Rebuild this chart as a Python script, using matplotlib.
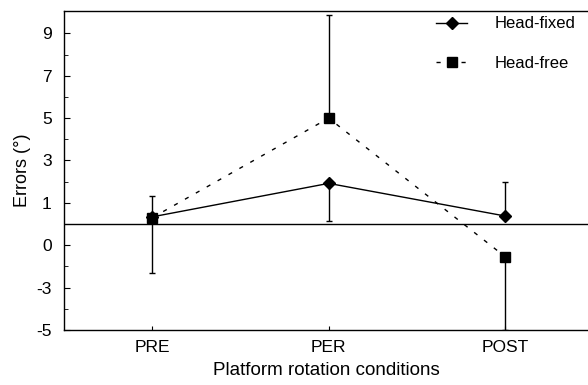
import matplotlib.pyplot as plt
import numpy as np

plt.rcParams['font.family'] = ['Liberation Sans', 'DejaVu Sans']

conditions = ['PRE', 'PER', 'POST']

# mean errors (deg)
head_fixed = [0.34, 1.92, 0.38]
head_free = [0.30, 5.00, -1.54]

# one-sided spreads: (lower, upper)
fixed_lo = [0.0, 1.78, 0.0]
fixed_hi = [1.00, 0.0, 1.62]
free_lo = [2.60, 0.0, 3.46]
free_hi = [0.0, 4.85, 0.0]

ytick_vals = [9, 7, 5, 3, 1, -1, -3, -5]
ytick_labels = ['9', '7', '5', '3', '1', '0', '-3', '-5']

fig = plt.figure(figsize=(5.88, 3.85), dpi=100)
ax = fig.add_axes([0.109, 0.143, 0.891, 0.828])

x = np.arange(1, len(conditions) + 1)

ax.axhline(0, color='black', linewidth=1.0, zorder=1)

ax.errorbar(x, head_fixed, yerr=[fixed_lo, fixed_hi], fmt='none', ecolor='black',
            elinewidth=1.0, capsize=2.5, capthick=1.0, zorder=2)
ax.errorbar(x, head_free, yerr=[free_lo, free_hi], fmt='none', ecolor='black',
            elinewidth=1.0, capsize=2.5, capthick=1.0, zorder=2)

ax.plot(x, head_fixed, '-D', color='black', linewidth=1.0, markersize=6.5,
        label='Head-fixed', zorder=3)
ax.plot(x, head_free, 's', linestyle=(0, (3, 6)), color='black', linewidth=1.0,
        markersize=7, label='Head-free', zorder=3)

ax.set_xlim(0.5, 3.47)
ax.set_ylim(-5, 10.05)
ax.set_xticks(x)
ax.set_xticklabels(conditions, fontsize=12.5)
ax.set_yticks(ytick_vals)
ax.set_yticklabels(ytick_labels, fontsize=12.5)
ax.set_yticks(np.arange(-4, 10, 2), minor=True)
ax.tick_params(axis='both', which='both', direction='in')
ax.tick_params(axis='y', which='major', length=4, pad=9)
ax.tick_params(axis='y', which='minor', length=3)
ax.tick_params(axis='x', which='major', length=3, pad=7)
ax.spines['right'].set_visible(False)
for s in ['left', 'top', 'bottom']:
    ax.spines[s].set_linewidth(1.0)

ax.set_ylabel('Errors (°)', fontsize=13, labelpad=4)
ax.set_xlabel('Platform rotation conditions', fontsize=13.5, labelpad=5)

fig.legend(loc='upper left', bbox_to_anchor=(0.727, 0.979), frameon=False, fontsize=12,
           borderpad=0, handlelength=1.9, labelspacing=1.45, handletextpad=1.6)

fig.savefig('out.png', dpi=100)
